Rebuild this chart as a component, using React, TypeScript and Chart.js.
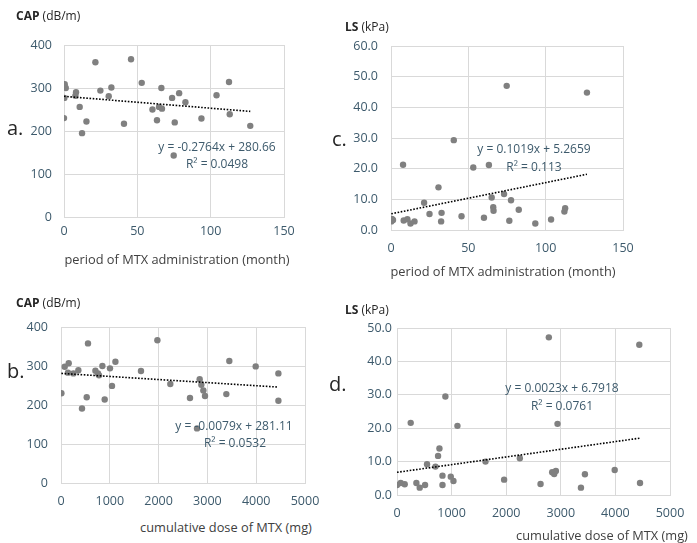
import React, { useEffect, useRef } from "react";
import { Chart, registerables } from "chart.js";

Chart.register(...registerables);

// ---- Data ----
// a. CAP vs period of MTX administration (month)
const periodA = [0.5, 1.2, 0.2, 0, 8.2, 7.8, 10.7, 12.3, 15.3, 21.4, 24.8, 30.5, 32.3, 40.9, 45.7, 53, 60.3, 63.4, 64.8, 66.8, 66.4, 73.7, 74.8, 75.5, 78.5, 82.8, 93.7, 104, 112.5, 113, 127];
const capA = [309, 300, 277, 230, 290, 282, 256, 195, 222, 360, 294, 281, 301, 217, 367, 312, 250, 225, 256, 252, 300, 277, 143, 220, 288, 267, 229, 283, 314, 239, 212];
const trendA = { slope: -0.2764, intercept: 280.66, eq: "y = -0.2764x + 280.66", r2: "R² = 0.0498" };

// c. LS vs period of MTX administration (month)
const periodC = [0.2, 1.3, 0.6, 7.8, 8.2, 10.6, 12.6, 15.2, 21.4, 24.9, 30.7, 32.4, 32.7, 40.6, 45.6, 53.2, 60.1, 63.3, 65.1, 66.1, 66.3, 73.1, 74.8, 76.5, 77.6, 82.6, 93.3, 103.5, 112.1, 112.6, 126.7];
const lsC = [2.8, 3.3, 3.6, 21.3, 3.1, 3.5, 2.1, 2.8, 8.9, 5.2, 13.9, 2.8, 5.6, 29.3, 4.5, 20.4, 4.0, 21.2, 10.6, 7.4, 6.3, 11.7, 47.0, 3.0, 9.7, 6.6, 2.1, 3.4, 6.0, 7.1, 44.8];
const trendC = { slope: 0.1019, intercept: 5.2659, eq: "y = 0.1019x + 5.2659", r2: "R² = 0.113" };

// b. CAP vs cumulative dose of MTX (mg)
const doseB = [8, 76, 143, 158, 254, 356, 430, 527, 553, 705, 758, 779, 848, 895, 1004, 1045, 1115, 1639, 1975, 2240, 2643, 2787, 2842, 2876, 2917, 2951, 3388, 3449, 3990, 4455, 4455];
const capB = [230, 298, 283, 307, 281, 289, 191, 220, 358, 288, 281, 276, 300, 214, 294, 249, 311, 287, 366, 254, 218, 140, 266, 252, 237, 223, 228, 313, 299, 281, 211];
const trendB = { slope: -0.0079, intercept: 281.11, eq: "y = -0.0079x + 281.11", r2: "R² = 0.0532" };

// d. LS vs cumulative dose of MTX (mg)
const doseD = [0, 68, 141, 251, 355, 416, 514, 550, 704, 752, 777, 833, 833, 886, 985, 1034, 1107, 1621, 1962, 2250, 2629, 2781, 2842, 2879, 2910, 2940, 3369, 3442, 3987, 4438, 4451];
const lsD = [3.0, 3.6, 3.2, 21.6, 3.6, 2.2, 3.0, 9.2, 8.5, 11.7, 13.9, 5.8, 3.0, 29.5, 5.5, 4.2, 20.7, 10.0, 4.6, 11.0, 3.3, 47.2, 6.8, 6.3, 7.2, 21.3, 2.2, 6.2, 7.5, 45.0, 3.6];
const trendD = { slope: 0.0023, intercept: 6.7918, eq: "y = 0.0023x + 6.7918", r2: "R² = 0.0761" };

const periodTicks = { max: 150, step: 50 };
const doseTicks = { max: 5000, step: 1000 };
const capTicks = { max: 400, step: 100, decimals: 0 };
const lsTicksC = { max: 60, step: 10, decimals: 1 };
const lsTicksD = { max: 50, step: 10, decimals: 1 };

const FONT = "'Open Sans', 'Noto Sans', sans-serif";
const TICK_COLOR = "#3D5A6C";
const GRID = "#D9D9D9";

type Area = { l: number; t: number; r: number; b: number };

const Y_W = 50;
const X_H = 34;
const PAD_T = 32;
const PAD_R = 44;

function Panel(props: {
  xs: number[];
  ys: number[];
  trend: { slope: number; intercept: number };
  xt: { max: number; step: number };
  yt: { max: number; step: number; decimals: number };
  area: Area;
  xPad: number;
  yPad: number;
}) {
  const ref = useRef<HTMLCanvasElement | null>(null);
  const { area } = props;
  const w = area.r - area.l + Y_W + PAD_R;
  const h = area.b - area.t + PAD_T + X_H;
  useEffect(() => {
    if (!ref.current) return;
    const xmin = Math.min(...props.xs);
    const xmax = Math.max(...props.xs);
    const { slope, intercept } = props.trend;
    const chart = new Chart(ref.current, {
      type: "scatter",
      data: {
        datasets: [
          {
            type: "line",
            data: [
              { x: xmin, y: slope * xmin + intercept },
              { x: xmax, y: slope * xmax + intercept },
            ],
            borderColor: "#000000",
            borderWidth: 1.6,
            borderDash: [1.6, 1.6],
            pointRadius: 0,
            fill: false,
            order: 0,
          } as any,
          {
            type: "scatter",
            data: props.xs.map((x, i) => ({ x, y: props.ys[i] })),
            pointRadius: 3.2,
            pointHoverRadius: 3.2,
            pointBackgroundColor: "#808080",
            pointBorderWidth: 0,
            order: 1,
          } as any,
        ],
      },
      options: {
        responsive: false,
        animation: false,
        events: [],
        layout: { padding: { top: PAD_T, right: PAD_R, left: 0, bottom: 0 } },
        plugins: { legend: { display: false }, tooltip: { enabled: false } },
        scales: {
          x: {
            type: "linear",
            min: 0,
            max: props.xt.max,
            ticks: {
              stepSize: props.xt.step,
              color: TICK_COLOR,
              font: { family: FONT, size: 12.5 },
              padding: props.xPad,
              maxRotation: 0,
              callback: (v: any) => String(v),
            },
            grid: { color: GRID, lineWidth: 1, drawTicks: false },
            border: { color: GRID },
            afterFit: (s: any) => {
              s.height = X_H;
            },
          },
          y: {
            type: "linear",
            min: 0,
            max: props.yt.max,
            ticks: {
              stepSize: props.yt.step,
              color: TICK_COLOR,
              font: { family: FONT, size: 12.5 },
              padding: props.yPad,
              callback: (v: any) => Number(v).toFixed(props.yt.decimals),
            },
            grid: { color: GRID, lineWidth: 1, drawTicks: false },
            border: { color: GRID },
            afterFit: (s: any) => {
              s.width = Y_W;
            },
          },
        },
      } as any,
    });
    return () => chart.destroy();
  }, []);
  return (
    <canvas
      ref={ref}
      width={w}
      height={h}
      style={{
        position: "absolute",
        left: area.l - Y_W,
        top: area.t - PAD_T,
        width: w,
        height: h,
      }}
    />
  );
}

function Txt(props: {
  x: number;
  y: number;
  children: React.ReactNode;
  size?: number;
  color?: string;
  align?: "left" | "center";
}) {
  const align = props.align || "left";
  return (
    <div
      style={{
        position: "absolute",
        left: props.x,
        top: props.y,
        transform: align === "center" ? "translate(-50%, -50%)" : "translate(0, -50%)",
        fontFamily: FONT,
        fontSize: props.size || 12,
        color: props.color || "#404040",
        whiteSpace: "nowrap",
        lineHeight: 1.2,
      }}
    >
      {props.children}
    </div>
  );
}

export default function App() {
  useEffect(() => {
    document.body.style.margin = "0";
  }, []);
  const areaA = { l: 64, t: 45, r: 284, b: 217 };
  const areaC = { l: 391, t: 46, r: 623, b: 230 };
  const areaB = { l: 61, t: 327, r: 305, b: 483 };
  const areaD = { l: 397, t: 328, r: 670, b: 495 };
  return (
    <div
      style={{
        position: "fixed",
        left: 0,
        top: 0,
        width: 697,
        height: 543,
        background: "#ffffff",
        overflow: "hidden",
      }}
    >
      <Panel xs={periodA} ys={capA} trend={trendA} xt={periodTicks} yt={capTicks} area={areaA} xPad={7} yPad={12} />
      <Panel xs={periodC} ys={lsC} trend={trendC} xt={periodTicks} yt={lsTicksC} area={areaC} xPad={10.5} yPad={13} />
      <Panel xs={doseB} ys={capB} trend={trendB} xt={doseTicks} yt={capTicks} area={areaB} xPad={10.5} yPad={13} />
      <Panel xs={doseD} ys={lsD} trend={trendD} xt={doseTicks} yt={lsTicksD} area={areaD} xPad={10.5} yPad={5} />

      <Txt x={16} y={16} color="#262626"><b>CAP</b> (dB/m)</Txt>
      <Txt x={345} y={27} color="#262626"><b>LS</b> (kPa)</Txt>
      <Txt x={16} y={303} color="#262626"><b>CAP</b> (dB/m)</Txt>
      <Txt x={345} y={310} color="#262626"><b>LS</b> (kPa)</Txt>

      <Txt x={7} y={128} size={20} color="#262626">a.</Txt>
      <Txt x={7} y={371} size={20} color="#262626">b.</Txt>
      <Txt x={332} y={139} size={20} color="#262626">c.</Txt>
      <Txt x={329} y={384} size={20} color="#262626">d.</Txt>

      <Txt x={177} y={260} size={12.8} align="center">period of MTX administration (month)</Txt>
      <Txt x={503} y={272} size={12.8} align="center">period of MTX administration (month)</Txt>
      <Txt x={226} y={528} size={12.8} align="center">cumulative dose of MTX (mg)</Txt>
      <Txt x={602} y={536} size={12.8} align="center">cumulative dose of MTX (mg)</Txt>

      <Txt x={217} y={147} align="center" color={TICK_COLOR}>{trendA.eq}</Txt>
      <Txt x={217} y={164} align="center" color={TICK_COLOR}>{trendA.r2}</Txt>
      <Txt x={534} y={149} align="center" color={TICK_COLOR}>{trendC.eq}</Txt>
      <Txt x={534} y={167} align="center" color={TICK_COLOR}>{trendC.r2}</Txt>
      <Txt x={234} y={426} align="center" color={TICK_COLOR}>{trendB.eq}</Txt>
      <Txt x={235} y={443} align="center" color={TICK_COLOR}>{trendB.r2}</Txt>
      <Txt x={562} y={388} align="center" color={TICK_COLOR}>{trendD.eq}</Txt>
      <Txt x={562} y={406} align="center" color={TICK_COLOR}>{trendD.r2}</Txt>
    </div>
  );
}
